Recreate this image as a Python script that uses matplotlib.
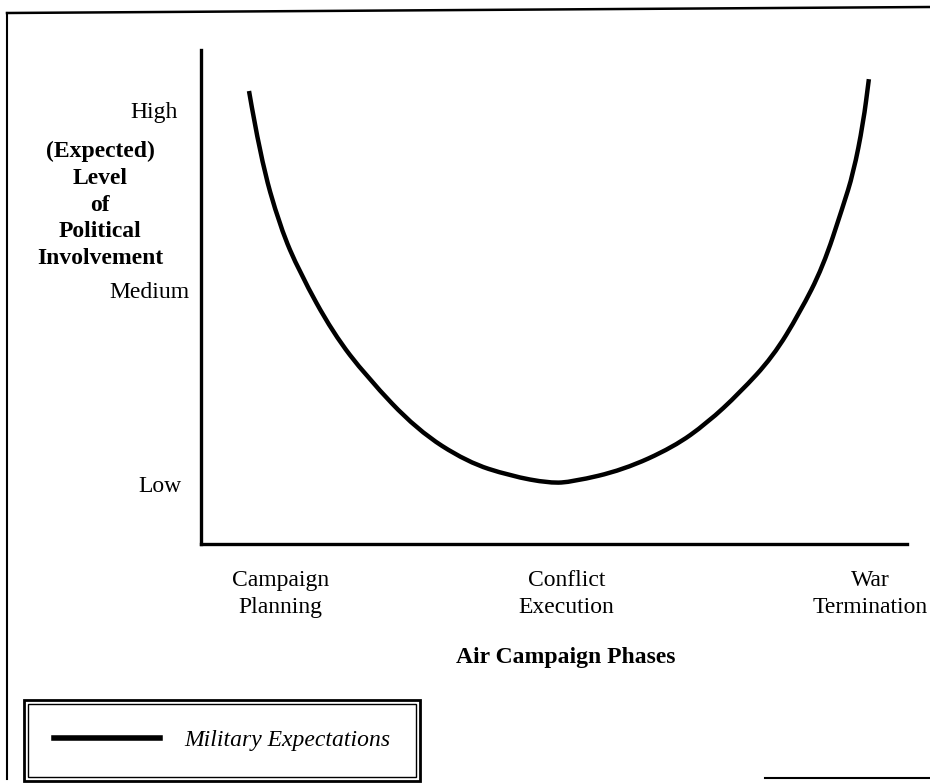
import matplotlib
matplotlib.use("Agg")
import matplotlib.pyplot as plt
from matplotlib.lines import Line2D
from matplotlib.patches import Rectangle, PathPatch
from matplotlib.path import Path
from matplotlib.transforms import blended_transform_factory

plt.rcParams['font.family'] = ['Liberation Serif', 'DejaVu Serif']

# curve (x: 0-100 along the phase axis, y: 0-100 level)
curve_x = [6.8, 8.4, 11.2, 14.0, 18.7, 23.5, 30.6, 37.7, 43.8, 49.4, 52.7,
           59.8, 66.9, 71.7, 76.3, 81.0, 84.8, 88.1, 90.9, 92.4, 93.8, 94.6]
curve_y = [91.7, 78.3, 64.2, 54.9, 42.7, 33.8, 23.1, 16.6, 13.8, 12.3, 12.6,
           15.0, 19.6, 24.5, 30.6, 37.9, 46.8, 56.1, 68.2, 75.1, 85.2, 94.1]

phase_labels = ["Campaign\nPlanning", "Conflict\nExecution", "War\nTermination"]
phase_pos = [11.3, 51.8, 94.8]

level_labels = ["High", "Medium", "Low"]
level_pos = [87.4, 51.0, 11.7]
level_xoff = [-0.033, -0.017, -0.028]

FS = 17

fig = plt.figure(figsize=(9.3, 7.83), dpi=100)
ax = fig.add_axes([201 / 930, 1 - 544 / 783, 706 / 930, 494 / 783])

# smooth the read points with quadratic pieces through the midpoints
pts = list(zip(curve_x, curve_y))
verts = [pts[0]]
codes = [Path.MOVETO]
for i in range(1, len(pts) - 1):
    mid = ((pts[i][0] + pts[i + 1][0]) / 2, (pts[i][1] + pts[i + 1][1]) / 2)
    verts += [pts[i], mid]
    codes += [Path.CURVE3, Path.CURVE3]
verts.append(pts[-1])
codes.append(Path.LINETO)
ax.add_patch(PathPatch(Path(verts, codes), fill=False, lw=3.2, ec='black',
                       capstyle='butt', joinstyle='round'))
handle = Line2D([], [], color='black', lw=4, label="Military Expectations")

ax.set_xlim(0, 100)
ax.set_ylim(0, 100)
ax.set_xticks([])
ax.set_yticks([])
for s in ['top', 'right']:
    ax.spines[s].set_visible(False)
for s in ['left', 'bottom']:
    ax.spines[s].set_linewidth(2.4)

# level labels beside the y axis
ytrans = blended_transform_factory(ax.transAxes, ax.transData)
for lab, pos, off in zip(level_labels, level_pos, level_xoff):
    ax.text(off, pos, lab, transform=ytrans, ha='right', va='center', fontsize=FS)

# phase labels under the x axis
xtrans = blended_transform_factory(ax.transData, fig.transFigure)
for lab, pos in zip(phase_labels, phase_pos):
    ax.text(pos, 1 - 594 / 783, lab, transform=xtrans, ha='center', va='center',
            fontsize=FS, linespacing=1.35)

fig.text(100 / 930, 1 - 205 / 783, "(Expected)\nLevel\nof\nPolitical\nInvolvement",
         ha='center', va='center', fontsize=FS, fontweight='bold', linespacing=1.36)
fig.text(566 / 930, 1 - 657 / 783, "Air Campaign Phases", ha='center', va='center',
         fontsize=FS, fontweight='bold')

leg = fig.legend(handles=[handle], loc='lower left',
                 bbox_to_anchor=(28 / 930, 1 - 777 / 783), borderaxespad=0,
                 fancybox=False, edgecolor='black', framealpha=1,
                 handlelength=4.5, handletextpad=1.0, borderpad=1.1,
                 prop={'size': FS, 'style': 'italic'})
leg.get_frame().set_linewidth(1.0)

# outer line of the double legend border
fig.canvas.draw()
bb = leg.get_window_extent().transformed(fig.transFigure.inverted())
dx, dy = 4 / 930, 4 / 783
fig.add_artist(Rectangle((bb.x0 - dx, bb.y0 - dy), bb.width + 2 * dx, bb.height + 2 * dy,
                         transform=fig.transFigure, fill=False, lw=2.0, ec='black'))

# page frame
fig.add_artist(Line2D([7 / 930, 7 / 930], [1 - 13 / 783, 1 - 779 / 783],
                      transform=fig.transFigure, color='black', lw=1.5))
fig.add_artist(Line2D([7 / 930, 1.0], [1 - 13 / 783, 1 - 7 / 783],
                      transform=fig.transFigure, color='black', lw=1.8))
fig.add_artist(Line2D([765 / 930, 1.0], [1 - 778 / 783, 1 - 778 / 783],
                      transform=fig.transFigure, color='black', lw=1.5))

fig.savefig("out.png", dpi=100)
